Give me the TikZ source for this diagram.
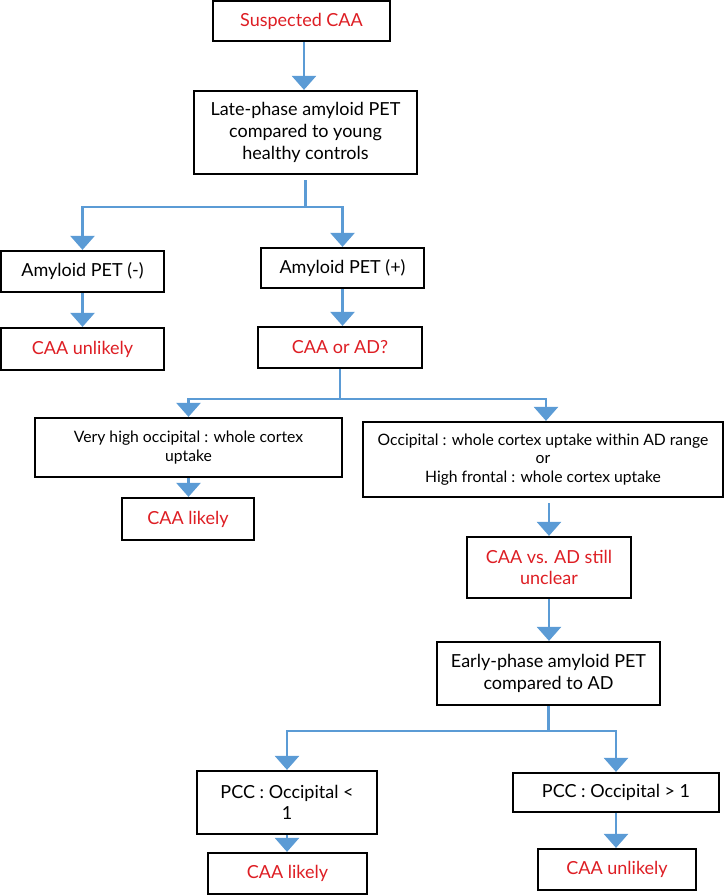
\documentclass[tikz,border=0pt]{standalone}
\usepackage{fontspec}
\setmainfont{Lato}
\usetikzlibrary{arrows.meta,calc}
\definecolor{flowblue}{RGB}{91,155,213}
\definecolor{flowred}{RGB}{222,30,36}
\begin{document}
\begin{tikzpicture}[x=1pt,y=-1pt,
  box/.style={draw=black,line width=2.2pt,fill=white,inner sep=0pt,align=center,
    font=\fontsize{18}{21.7}\selectfont},
  smallbox/.style={box,font=\fontsize{15.7}{18.5}\selectfont},
  redtxt/.style={text=flowred},
  conn/.style={draw=flowblue,line width=2.5pt},
  arr/.style={conn,-{Triangle[width=24pt,length=14pt]}}]
\useasboundingbox (0,0) rectangle (724,896);
% boxes
\node[box,redtxt,minimum width=177pt,minimum height=40pt] (susp) at (301.5,21) {Suspected CAA};
\node[box,minimum width=223pt,minimum height=83pt] (late) at (305.5,132.5) {Late-phase amyloid PET\\compared to young\\healthy controls};
\node[box,minimum width=163pt,minimum height=41pt] (neg) at (82.5,271.5) {Amyloid PET (-)};
\node[box,minimum width=163pt,minimum height=40pt] (pos) at (342.5,268) {Amyloid PET (+)};
\node[box,redtxt,minimum width=163pt,minimum height=42pt] (unl1) at (82.5,349) {CAA unlikely};
\node[box,redtxt,minimum width=164pt,minimum height=41pt] (caaad) at (340,347.5) {CAA or AD?};
\node[smallbox,minimum width=307pt,minimum height=59pt] (vhigh) at (188.5,447.5) {Very high occipital : whole cortex\\uptake};
\node[smallbox,minimum width=360pt,minimum height=75pt] (occ) at (543,459.5) {Occipital : whole cortex uptake within AD range\\or\\High frontal : whole cortex uptake};
\node[box,redtxt,minimum width=132pt,minimum height=42pt] (likely1) at (188,519) {CAA likely};
\node[box,redtxt,minimum width=164pt,minimum height=61pt] (vs) at (549,567.5) {CAA vs. AD still\\unclear};
\node[box,minimum width=223pt,minimum height=63pt] (early) at (548.5,673.5) {Early-phase amyloid PET\\compared to AD};
\node[box,minimum width=180pt,minimum height=63pt] (pcclt) at (287,802.5) {PCC : Occipital <\\1};
\node[box,minimum width=206pt,minimum height=39pt] (pccgt) at (616,792.5) {PCC : Occipital > 1};
\node[box,redtxt,minimum width=159pt,minimum height=41pt] (likely2) at (287.5,873.5) {CAA likely};
\node[box,redtxt,minimum width=158pt,minimum height=41pt] (unl2) at (617,869.5) {CAA unlikely};
% junctions
\coordinate (j1) at (305.5,207);
\coordinate (j2) at (340,399);
\coordinate (j3) at (548.5,731);
% connectors
\draw[arr] ([xshift=2.5pt]susp.south) -- ([xshift=2.5pt]susp.south |- late.north);
\draw[conn] ([yshift=-5pt]late.south) -- (j1);
\draw[arr] (j1) -| (neg.north);
\draw[arr] (j1) -| (pos.north);
\draw[arr] (neg.south) -- (unl1.north);
\draw[arr] (pos.south) -- (pos.south |- caaad.north);
\draw[conn] (caaad.south) -- (j2);
\draw[arr] (j2) -| (vhigh.north);
\draw[arr] (j2) -| ([xshift=3pt]occ.north);
\draw[arr] (vhigh.south) -- (vhigh.south |- likely1.north);
\draw[arr] ([yshift=-5pt]vs.north |- occ.south) -- (vs.north);
\draw[arr] (vs.south) -- (vs.south |- early.north);
\draw[conn] (early.south) -- (j3);
\draw[arr] (j3) -| (pcclt.north);
\draw[arr] (j3) -| (pccgt.north);
\draw[arr] (pcclt.south) -- (pcclt.south |- likely2.north);
\draw[arr] (pccgt.south) -- (pccgt.south |- unl2.north);
\end{tikzpicture}
\end{document}
